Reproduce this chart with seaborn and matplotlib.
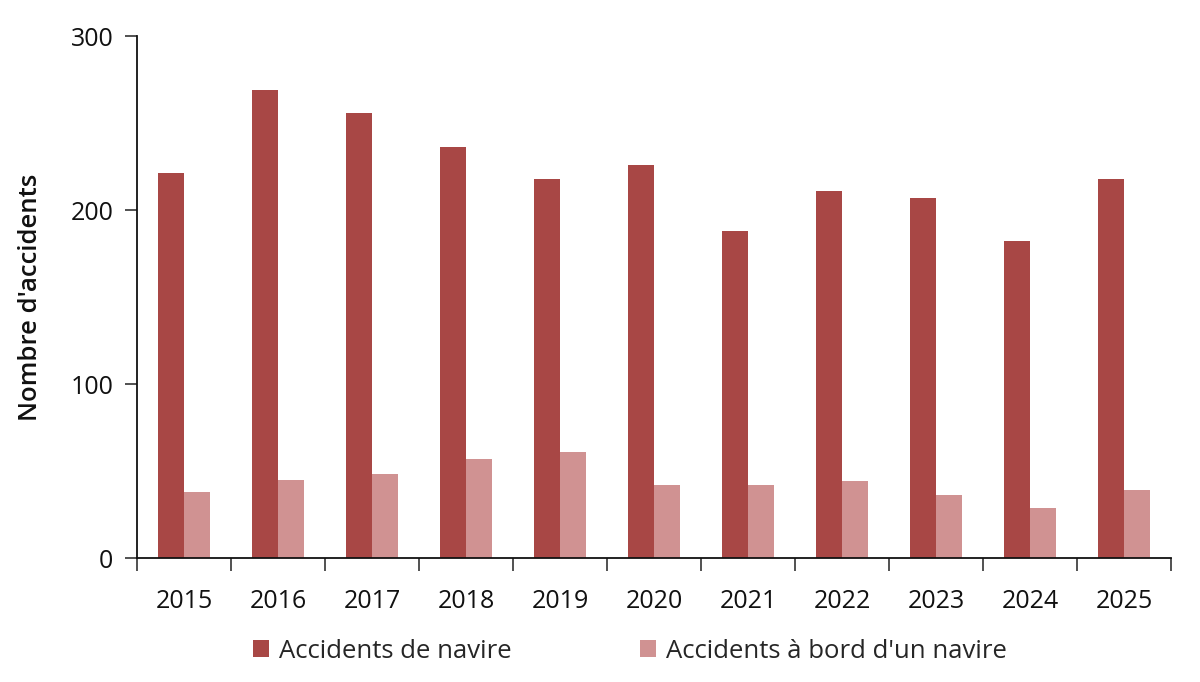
import matplotlib
matplotlib.use("Agg")
import matplotlib.pyplot as plt
import seaborn as sns
import pandas as pd
import numpy as np
from matplotlib.patches import Patch

years = ["2015", "2016", "2017", "2018", "2019", "2020", "2021", "2022", "2023", "2024", "2025"]
accidents_navire = [221, 269, 256, 236, 218, 226, 188, 211, 207, 182, 218]
accidents_bord = [38, 45, 48, 57, 61, 42, 42, 44, 36, 29, 39]
series_names = ["Accidents de navire", "Accidents à bord d'un navire"]
colors = ["#A84745", "#D09292"]
y_ticks = [0, 100, 200, 300]

df = pd.DataFrame({
    "Année": years * 2,
    "Valeur": accidents_navire + accidents_bord,
    "Série": [series_names[0]] * len(years) + [series_names[1]] * len(years),
})

sns.set_theme(style="white")
plt.rcParams["font.family"] = ["Open Sans", "DejaVu Sans"]
plt.rcParams["xtick.bottom"] = True
plt.rcParams["ytick.left"] = True

fig = plt.figure(figsize=(12, 6.82), dpi=100)
ax = fig.add_axes([0.1142, 0.1818, 0.8616, 0.7654])

sns.barplot(data=df, x="Année", y="Valeur", hue="Série", palette=colors,
            width=0.56, saturation=1, ax=ax, legend=False, linewidth=0)

ax.set_xlim(-0.5, len(years) - 0.5)
ax.set_ylim(0, 300)
ax.set_yticks(y_ticks)
ax.set_yticklabels([str(t) for t in y_ticks], fontsize=18, color="#111111")
ax.set_xticks(range(len(years)))
ax.set_xticklabels(years, fontsize=18, color="#111111")
ax.set_xticks(np.arange(-0.5, len(years), 1.0), minor=True)
ax.tick_params(axis="x", which="major", bottom=True, length=0, pad=22)
ax.tick_params(axis="x", which="minor", bottom=True, length=9, width=1.2, color="#333333", direction="out")
ax.tick_params(axis="y", which="major", left=True, length=9, width=1.2, color="#333333", direction="out", pad=8)

for side in ["top", "right"]:
    ax.spines[side].set_visible(False)
for side in ["left", "bottom"]:
    ax.spines[side].set_color("#111111")
    ax.spines[side].set_linewidth(1.3)

ax.set_xlabel("")
ax.set_ylabel("Nombre d'accidents", fontsize=18.5, fontweight="semibold", color="#111111", labelpad=20)

handles = [Patch(facecolor=c, edgecolor="none") for c in colors]
fig.legend(handles, series_names, loc="center", bbox_to_anchor=(0.525, 0.045),
           ncol=2, frameon=False, fontsize=18.5, handlelength=0.62, handleheight=0.62,
           handletextpad=0.4, columnspacing=5.0)

fig.savefig("out.png", dpi=100, facecolor="white")
